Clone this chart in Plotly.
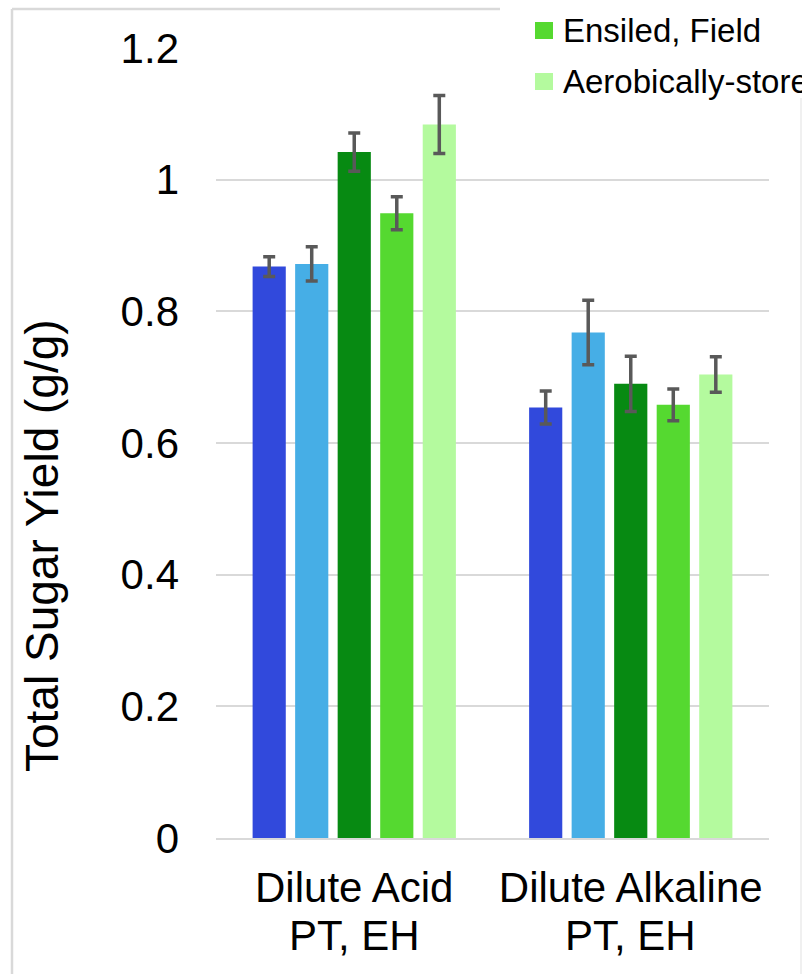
import plotly.graph_objects as go

# ---- data ----
categories = ["Dilute Acid", "Dilute Alkaline"]
category_line2 = ["PT, EH", "PT, EH"]
series_names = ["Fresh", "Dried", "Ensiled, Lab", "Ensiled, Field", "Aerobically-stored"]
series_colors = ["#3149DC", "#46AEE6", "#078A12", "#55D930", "#B4FA9E"]
values = [
    [0.868, 0.654],
    [0.872, 0.768],
    [1.042, 0.690],
    [0.949, 0.658],
    [1.084, 0.704],
]
errors = [
    [0.015, 0.025],
    [0.026, 0.049],
    [0.029, 0.042],
    [0.025, 0.024],
    [0.044, 0.027],
]
y_ticks = [0, 0.2, 0.4, 0.6, 0.8, 1.0, 1.2]
y_tick_labels = ["0", "0.2", "0.4", "0.6", "0.8", "1", "1.2"]
legend_shown = [3, 4]
legend_labels = ["Ensiled, Field", "Aerobically-stored"]

# ---- layout geometry (pixels) ----
W, H = 802, 974
L, R, T, B = 216, 33, 48, 136
PW, PH = W - L - R, H - T - B
FONT = "Liberation Sans, Arial, sans-serif"
GRID = "#D9D9D9"


def px(x):
    return (x - L) / PW


def py(y):
    return (H - B - y) / PH


fig = go.Figure()
for name, color, vals, errs in zip(series_names, series_colors, values, errors):
    fig.add_trace(go.Bar(
        name=name, x=categories, y=vals, marker_color=color,
        marker_line_width=0, showlegend=False,
        error_y=dict(type="data", array=errs, visible=True,
                     color="#595959", thickness=3.5, width=6),
    ))

shapes = [
    # chart-area border
    dict(type="line", xref="paper", yref="paper", x0=px(12), x1=px(12), y0=py(9), y1=py(990),
         line=dict(color=GRID, width=2.5), layer="above"),
    dict(type="line", xref="paper", yref="paper", x0=px(12), x1=px(801), y0=py(9), y1=py(9),
         line=dict(color=GRID, width=2.5), layer="above"),
    dict(type="line", xref="paper", yref="paper", x0=px(801), x1=px(801), y0=py(9), y1=py(990),
         line=dict(color="#EBEBEB", width=1.5), layer="above"),
    # legend box (white) covering the top-right corner
    dict(type="rect", xref="paper", yref="paper", x0=px(500), x1=px(830), y0=py(-10), y1=py(98),
         fillcolor="white", line=dict(width=0), layer="above"),
]
annotations = []
for i, (idx, lab) in enumerate(zip(legend_shown, legend_labels)):
    cy = 30.5 + 51 * i
    shapes.append(dict(type="rect", xref="paper", yref="paper",
                       x0=px(535), x1=px(553), y0=py(cy - 8.5), y1=py(cy + 8.5),
                       fillcolor=series_colors[idx], line=dict(width=0), layer="above"))
    annotations.append(dict(xref="paper", yref="paper", x=px(561), y=py(cy),
                            xanchor="left", yanchor="middle", text=lab, showarrow=False,
                            font=dict(family=FONT, size=33, color="#000000")))

# second line of category labels
for cat, l2 in zip(categories, category_line2):
    annotations.append(dict(xref="x", yref="paper", x=cat, y=py(935),
                            xanchor="center", yanchor="middle", text=l2, showarrow=False,
                            font=dict(family=FONT, size=42, color="#000000")))

# y-axis title
annotations.append(dict(xref="paper", yref="paper", x=px(42), y=py(546),
                        xanchor="center", yanchor="middle", textangle=-90,
                        text="Total Sugar Yield (g/g)", showarrow=False,
                        font=dict(family=FONT, size=46, color="#000000")))

fig.update_layout(
    width=W, height=H,
    margin=dict(l=L, r=R, t=T, b=B, pad=0),
    paper_bgcolor="white", plot_bgcolor="white",
    barmode="group", bargap=0.231, bargroupgap=0.22,
    font=dict(family=FONT, color="#000000"),
    shapes=shapes, annotations=annotations,
    xaxis=dict(type="category", showgrid=False, showline=True, linecolor=GRID, linewidth=2,
               ticks="", ticklabelstandoff=12, tickfont=dict(family=FONT, size=42, color="#000000")),
    yaxis=dict(range=[0, 1.2001], tickmode="array", tickvals=y_ticks, ticktext=y_tick_labels,
               showgrid=True, gridcolor=GRID, gridwidth=1.5, zeroline=False, showline=False,
               ticks="", ticklabelstandoff=36, tickfont=dict(family=FONT, size=42, color="#000000")),
)

fig.write_html("out.html")
